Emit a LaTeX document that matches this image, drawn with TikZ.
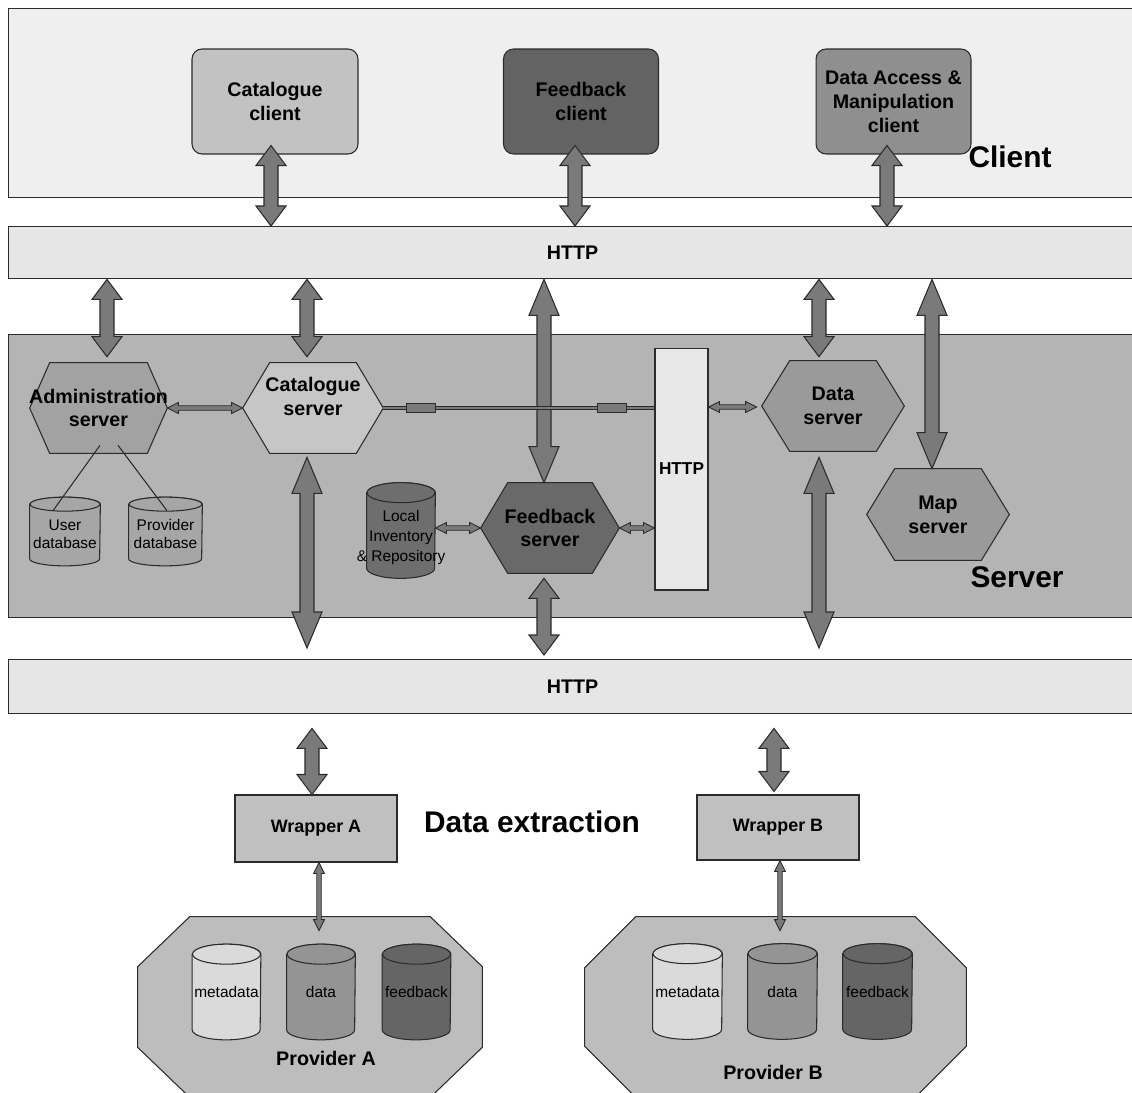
\documentclass[tikz,border=0pt]{standalone}
\usepackage{fontspec}
\setmainfont{Liberation Sans}
\usetikzlibrary{calc}

\pgfdeclarelayer{panels}
\pgfdeclarelayer{bodies}
\pgfsetlayers{panels,bodies,main}

\definecolor{edge}{HTML}{2B2B2B}
\definecolor{clientbg}{HTML}{EFEFEF}
\definecolor{httpbg}{HTML}{E6E6E6}
\definecolor{serverbg}{HTML}{B4B4B4}
\definecolor{catfill}{HTML}{C2C2C2}
\definecolor{fbfill}{HTML}{636363}
\definecolor{dafill}{HTML}{8F8F8F}
\definecolor{admfill}{HTML}{A2A2A2}
\definecolor{catsfill}{HTML}{C6C6C6}
\definecolor{dsfill}{HTML}{9A9A9A}
\definecolor{fbsfill}{HTML}{696969}
\definecolor{dbfill}{HTML}{A6A6A6}
\definecolor{localfill}{HTML}{6E6E6E}
\definecolor{arrowgray}{HTML}{7A7A7A}
\definecolor{wrapfill}{HTML}{C0C0C0}
\definecolor{provfill}{HTML}{BDBDBD}
\definecolor{metafill}{HTML}{DADADA}
\definecolor{datafill}{HTML}{949494}
\definecolor{feedfill}{HTML}{656565}
\definecolor{httpvfill}{HTML}{E8E8E8}

\newcommand\fLabel{\fontsize{11.2}{13.6}\selectfont\bfseries}
\newcommand\fTitle{\fontsize{17}{20}\selectfont\bfseries}
\newcommand\fWrap{\fontsize{10.2}{12}\selectfont\bfseries}
\newcommand\fDb{\fontsize{8.8}{10.2}\selectfont}
\newcommand\fLocal{\fontsize{8.8}{11.3}\selectfont}
\newcommand\fVbar{\fontsize{9.8}{12}\selectfont\bfseries}

% hexagonal server body drawn behind a node: node, corner inset (px), fill
\newcommand\hexbody[3]{%
  \begin{pgfonlayer}{bodies}
    \filldraw[outline, fill=#3] (#1.west) -- ($(#1.north west)+(#2,0)$)
      -- ($(#1.north east)+(-#2,0)$) -- (#1.east)
      -- ($(#1.south east)+(-#2,0)$) -- ($(#1.south west)+(#2,0)$) -- cycle;
  \end{pgfonlayer}}

% database cylinder drawn behind a node: node, x radius (px), rim y radius (px), fill
\newcommand\drumbody[4]{%
  \pgfmathsetmacro\drx{#2*0.02}\pgfmathsetmacro\dry{#3*0.02}%
  \begin{pgfonlayer}{bodies}
    \filldraw[outline, fill=#4] ($(#1.north west)+(0,#3)$) -- ($(#1.south west)+(0,-#3)$)
      arc[start angle=180, end angle=360, x radius=\drx cm, y radius=\dry cm]
      -- ($(#1.north east)+(0,#3)$)
      arc[start angle=0, end angle=180, x radius=\drx cm, y radius=\dry cm] -- cycle;
    \filldraw[outline, fill=#4] ($(#1.north)+(0,#3)$) ellipse[x radius=\drx cm, y radius=\dry cm];
  \end{pgfonlayer}}

% provider outline with cut corners: node, cut x (px), cut y (px), fill
\newcommand\octbody[4]{%
  \begin{pgfonlayer}{bodies}
    \filldraw[outline, fill=#4] ($(#1.north west)+(#2,0)$) -- ($(#1.north east)+(-#2,0)$)
      -- ($(#1.north east)+(0,#3)$) -- ($(#1.south east)+(0,-#3)$)
      -- ($(#1.south east)+(-#2,0)$) -- ($(#1.south west)+(#2,0)$)
      -- ($(#1.south west)+(0,-#3)$) -- ($(#1.north west)+(0,#3)$) -- cycle;
  \end{pgfonlayer}}

\tikzset{
  outline/.style={draw=edge, line width=0.6pt},
  panel/.style={draw=edge, line width=0.8pt, inner sep=0pt, anchor=north west, minimum width=22.56cm},
  clientbox/.style={outline, rounded corners=0.2cm, minimum height=2.1cm, inner sep=0pt, align=center, font=\fLabel},
  hexnode/.style={minimum height=1.8cm, inner sep=0pt, align=center, font=\fLabel},
  drum/.style={inner sep=0pt, align=center, font=\fDb},
  wrapbox/.style={outline, fill=wrapfill, minimum width=3.24cm, minimum height=1.34cm, inner sep=0pt, font=\fWrap},
  provnode/.style={minimum height=3.6cm, inner sep=0pt},
  title/.style={font=\fTitle, inner sep=0pt},
  provlabel/.style={font=\fLabel, inner sep=0pt},
  tipsize/.code n args={3}{\def\tiplen{#1}\def\tipwid{#2}\def\shaftwid{#3}},
  twoway/.style={line join=miter, to path={
    -- ($(\tikztostart)!\tiplen!(\tikztotarget)!\tipwid!90:(\tikztotarget)$)
    -- ($(\tikztostart)!\tiplen!(\tikztotarget)!\shaftwid!90:(\tikztotarget)$)
    -- ($(\tikztotarget)!\tiplen!(\tikztostart)!\shaftwid!-90:(\tikztostart)$)
    -- ($(\tikztotarget)!\tiplen!(\tikztostart)!\tipwid!-90:(\tikztostart)$)
    -- (\tikztotarget)
    -- ($(\tikztotarget)!\tiplen!(\tikztostart)!\tipwid!90:(\tikztostart)$)
    -- ($(\tikztotarget)!\tiplen!(\tikztostart)!\shaftwid!90:(\tikztostart)$)
    -- ($(\tikztostart)!\tiplen!(\tikztotarget)!\shaftwid!-90:(\tikztotarget)$)
    -- ($(\tikztostart)!\tiplen!(\tikztotarget)!\tipwid!-90:(\tikztotarget)$)
    -- cycle}},
  fat/.style={twoway, outline, fill=arrowgray, tipsize={0.4cm}{0.3cm}{0.14cm}},
  fatlong/.style={twoway, outline, fill=arrowgray, tipsize={0.72cm}{0.3cm}{0.14cm}},
  slim/.style={twoway, draw=edge, line width=0.5pt, fill=arrowgray, tipsize={0.22cm}{0.11cm}{0.045cm}},
  linkbar/.style={draw=edge, line width=0.5pt, double=arrowgray, double distance=1.4pt},
  tick/.style={outline, fill=arrowgray, minimum width=0.58cm, minimum height=0.18cm, inner sep=0pt},
}

\begin{document}
\begin{tikzpicture}[x=0.02cm, y=-0.02cm]
\useasboundingbox (0,0) rectangle (1132,1092);

% ---- tier panels and HTTP bars
\begin{pgfonlayer}{panels}
  \fill[white] (0,0) rectangle (1132,1092);
  \node[panel, fill=clientbg, minimum height=3.78cm] (clientpanel) at (8,8) {};
  \node[panel, fill=httpbg, minimum height=1.04cm, font=\fLabel] (http1) at (8,226) {HTTP};
  \node[panel, fill=serverbg, minimum height=5.66cm] (serverpanel) at (8,334) {};
  \node[panel, fill=httpbg, minimum height=1.08cm, font=\fLabel] (http2) at (8,659) {HTTP};
\end{pgfonlayer}

% ---- client tier
\node[clientbox, fill=catfill, minimum width=3.32cm] (catc) at (275,101.5) {Catalogue\\client};
\node[clientbox, fill=fbfill, minimum width=3.1cm] (fbc) at (581,101.5) {Feedback\\client};
\node[clientbox, fill=dafill, minimum width=3.1cm] (dac) at (893.5,101.5) {Data Access \&\\Manipulation\\client};
\node[title] (clienttitle) at (1010,157) {Client};

% ---- server tier
\node[hexnode, minimum width=2.74cm] (adm) at (98.5,408) {\makebox[0pt]{Administration}\\server};
\node[hexnode, minimum width=2.8cm] (cats) at (313,408) {Catalogue\\server\\\mbox{}};
\node[hexnode, minimum width=2.84cm] (ds) at (833,406) {Data\\server};
\node[hexnode, minimum width=2.76cm] (fbs) at (550,528) {Feedback\\server};
\node[hexnode, minimum width=2.84cm, minimum height=1.82cm] (ms) at (938,514.5) {Map\\server};
\hexbody{adm}{20}{admfill}
\hexbody{cats}{27}{catsfill}
\hexbody{ds}{28}{dsfill}
\hexbody{fbs}{27}{fbsfill}
\hexbody{ms}{28}{dsfill}

\node[outline, fill=httpvfill, minimum width=1.06cm, minimum height=4.84cm, inner sep=0pt, font=\fVbar] (httpv) at (681.5,469) {HTTP};

\node[drum, minimum width=1.4cm, minimum height=1.36cm] (udb) at (65,531.5) {\rule{0pt}{9pt}User\\database};
\node[drum, minimum width=1.46cm, minimum height=1.36cm] (pdb) at (165.5,531.5) {\rule{0pt}{9pt}Provider\\database};
\node[drum, minimum width=1.36cm, minimum height=1.9cm, font=\fLocal] (loc) at (401,530.5)
  {\makebox[0pt]{\rule{0pt}{14pt}Local}\\\makebox[0pt]{Inventory}\\\makebox[0pt]{\& Repository}};
\drumbody{udb}{35}{7}{dbfill}
\drumbody{pdb}{36.5}{7}{dbfill}
\drumbody{loc}{34}{10}{localfill}

\node[title] (servertitle) at (1017,577) {Server};

% ---- data extraction tier
\node[wrapbox] (wa) at (316,828.5) {Wrapper A};
\node[wrapbox, minimum height=1.3cm] (wb) at (778,827.5) {Wrapper B};
\node[title] (extracttitle) at (532,822) {Data extraction};

\node[provnode, minimum width=6.88cm] (pa) at (310,1007) {};
\node[provnode, minimum width=7.62cm] (pb) at (775.5,1007) {};
\octbody{pa}{52}{50}{provfill}
\octbody{pb}{51}{51}{provfill}

\node[drum, minimum width=1.36cm, minimum height=1.9cm] (pameta) at (226.5,992) {metadata};
\node[drum, minimum width=1.36cm, minimum height=1.9cm] (padata) at (321,992) {data};
\node[drum, minimum width=1.36cm, minimum height=1.9cm] (pafeed) at (416.5,992) {feedback};
\node[drum, minimum width=1.38cm, minimum height=1.9cm] (pbmeta) at (687.5,991.5) {metadata};
\node[drum, minimum width=1.38cm, minimum height=1.9cm] (pbdata) at (782.5,991.5) {data};
\node[drum, minimum width=1.38cm, minimum height=1.9cm] (pbfeed) at (877.5,991.5) {feedback};
\drumbody{pameta}{34}{10}{metafill}
\drumbody{padata}{34}{10}{datafill}
\drumbody{pafeed}{34}{10}{feedfill}
\drumbody{pbmeta}{34.5}{10}{metafill}
\drumbody{pbdata}{34.5}{10}{datafill}
\drumbody{pbfeed}{34.5}{10}{feedfill}

\node[provlabel] (palabel) at (326,1058) {Provider A};
\node[provlabel] (pblabel) at (773,1072) {Provider B};

% ---- clients to upper HTTP bar
\coordinate (catc-port) at ($(catc.south)+(-4,-9)$);
\coordinate (fbc-port) at ($(fbc.south)+(-6,-9)$);
\coordinate (dac-port) at ($(dac.south)+(-6.5,-9)$);
\draw[fat] (catc-port) to (http1.north -| catc-port);
\draw[fat] (fbc-port) to (http1.north -| fbc-port);
\draw[fat] (dac-port) to (http1.north -| dac-port);

% ---- upper HTTP bar to servers
\coordinate (adm-port) at ($(adm.north)+(8.5,-6)$);
\coordinate (cats-up) at ($(cats.north)+(-6,-6)$);
\coordinate (fbs-up) at ($(fbs.north)+(-6,0)$);
\coordinate (ds-up) at ($(ds.north)+(-14,-4)$);
\coordinate (ms-up) at ($(ms.north)+(-6,0)$);
\draw[fat] (http1.south -| adm-port) to (adm-port);
\draw[fat] (http1.south -| cats-up) to (cats-up);
\draw[fatlong] (http1.south -| fbs-up) to (fbs-up);
\draw[fat] (http1.south -| ds-up) to (ds-up);
\draw[fatlong] (http1.south -| ms-up) to (ms-up);

% ---- links inside the server tier
\draw[slim] (adm.east) to (cats.west);
\draw[linkbar] (cats.east) -- (httpv.west |- cats.east);
\path (cats.east) -- (httpv.west |- cats.east)
  node[tick, pos=0.14] (tick1) {} node[tick, pos=0.845] (tick2) {};
\coordinate (ds-in) at ($(ds.west)+(-5,1)$);
\draw[slim] (httpv.east |- ds-in) to (ds-in);
\draw[slim] (loc.east |- fbs.west) to (fbs.west);
\draw[slim] (fbs.east) to (httpv.west |- fbs.east);
\draw[outline] ($(adm.south)+(1.5,-8)$) -- ($(udb.north)+(-12,13.5)$);
\draw[outline] ($(adm.south)+(19.5,-8)$) -- ($(pdb.north)+(1.5,13.5)$);

% ---- servers to lower HTTP bar
\coordinate (cats-down) at ($(cats.south)+(-6,4)$);
\coordinate (cats-bar) at ($(http2.north -| cats-down)+(0,-11)$);
\coordinate (fbs-down) at ($(fbs.south)+(-6,5)$);
\coordinate (fbs-bar) at ($(http2.north -| fbs-down)+(0,-4)$);
\coordinate (ds-down) at ($(ds.south)+(-14,6)$);
\coordinate (ds-bar) at ($(http2.north -| ds-down)+(0,-11)$);
\draw[fatlong] (cats-down) to (cats-bar);
\draw[fat] (fbs-down) to (fbs-bar);
\draw[fatlong] (ds-down) to (ds-bar);

% ---- lower HTTP bar to wrappers, wrappers to providers
\coordinate (wa-up) at ($(wa.north)+(-4,0)$);
\coordinate (wa-bar) at ($(http2.south -| wa-up)+(0,14)$);
\coordinate (wb-up) at ($(wb.north)+(-4,-3)$);
\coordinate (wb-bar) at ($(http2.south -| wb-up)+(0,14)$);
\draw[fat] (wa-bar) to (wa-up);
\draw[fat] (wb-bar) to (wb-up);

\coordinate (wa-out) at ($(wa.south)+(3,0)$);
\coordinate (pa-in) at ($(pa.north -| wa-out)+(0,14)$);
\coordinate (wb-out) at ($(wb.south)+(2,0)$);
\coordinate (pb-in) at ($(pb.north -| wb-out)+(0,14)$);
\draw[slim] (wa-out) to (pa-in);
\draw[slim] (wb-out) to (pb-in);
\end{tikzpicture}
\end{document}
